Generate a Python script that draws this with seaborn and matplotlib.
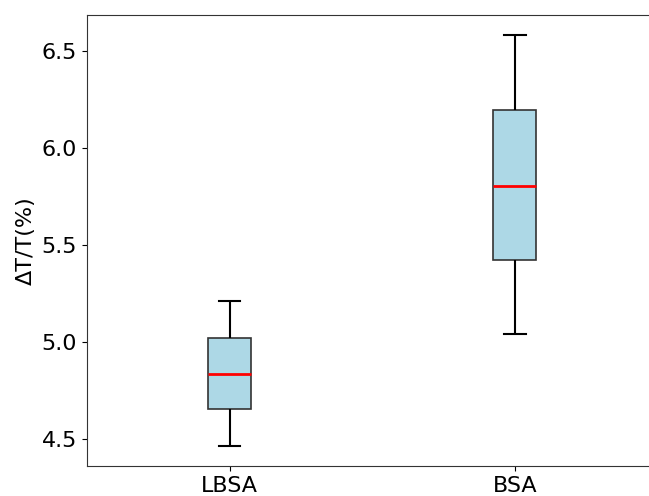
import matplotlib
matplotlib.use("Agg")
import matplotlib.pyplot as plt
import seaborn as sns
import pandas as pd

categories = ["LBSA", "BSA"]
# five-number summaries: lower whisker, Q1, median, Q3, upper whisker
lbsa_values = [4.464, 4.655, 4.835, 5.021, 5.211]
bsa_values = [5.041, 5.423, 5.804, 6.196, 6.582]
yticks = [4.5, 5.0, 5.5, 6.0, 6.5]

df = pd.DataFrame({
    "method": [categories[0]] * len(lbsa_values) + [categories[1]] * len(bsa_values),
    "value": lbsa_values + bsa_values,
})

fig = plt.figure(figsize=(6.49, 4.96), dpi=100)
ax = fig.add_axes([87 / 649, 30 / 496, (657.5 - 87) / 649, 451 / 496])

sns.boxplot(
    data=df, x="method", y="value", order=categories, ax=ax,
    color="#ADD8E6", saturation=1, width=0.15, whis=1.5, fliersize=0,
    boxprops=dict(edgecolor="#333333", linewidth=1.2),
    medianprops=dict(color="red", linewidth=2),
    whiskerprops=dict(color="black", linewidth=1.5),
    capprops=dict(color="black", linewidth=1.5),
)

ax.set_xlim(-0.5, 1.5)
ax.set_ylim(4.361, 6.686)
ax.set_yticks(yticks)
ax.set_yticklabels([f"{t:.1f}" for t in yticks])
ax.set_xlabel("")
ax.set_ylabel("ΔT/T(%)", fontsize=16)
ax.tick_params(axis="both", labelsize=16)
for s in ax.spines.values():
    s.set_color("#333333")

fig.savefig("out.png", dpi=100)
